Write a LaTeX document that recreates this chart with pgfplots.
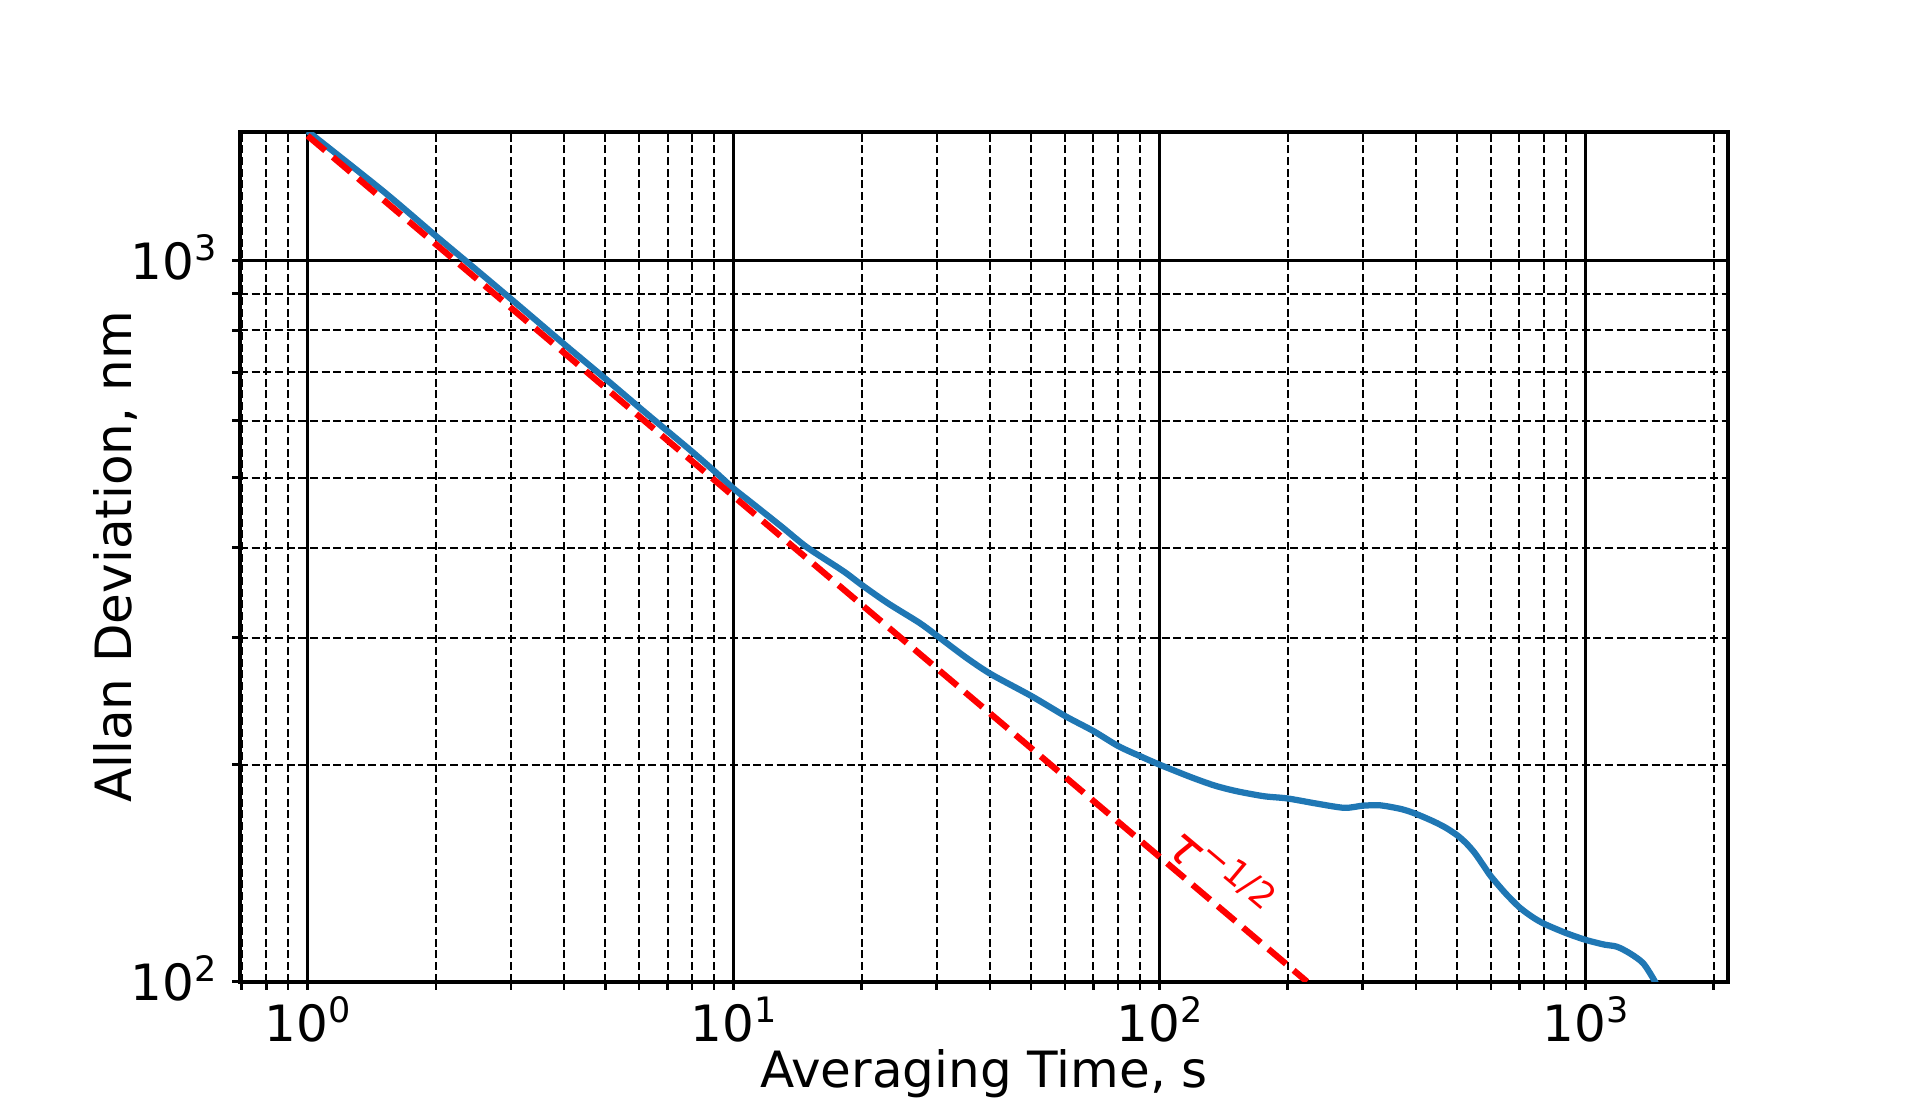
\documentclass[border=0pt]{standalone}
\usepackage{fontspec}
\setmainfont{DejaVu Sans}
\usepackage{pgfplots}
\usepackage{pgfplotstable}
\pgfplotsset{compat=1.18}
\definecolor{mplblue}{HTML}{1F77B4}
\newcommand{\pw}[1]{10\raisebox{0.38em}{\fontsize{8.4}{10}\selectfont #1}}

\pgfplotstableread{
tau sigma
1 1512
1.5 1250
2 1082
2.346 1000
3 885
4 766
5 686
6 626
7 580
8 543
9 511
10 483
11.15 459
13 427
14.9 400
18.1 371
20 355
23 335
27.3 314.6
30 302
35 282
40.2 267
50 249
60 233.6
70 222.6
80 212.2
90 205.5
100 200
119 192
135 187
152 183.7
176 180.8
200 179.5
235 176.5
272 174.2
300 175.4
330 175.6
370 173.5
400 170.9
440 166.8
470 163.5
500 159.6
525 155.6
550 150.8
575 145.2
600 140
650 132.5
700 126.8
750 123
800 120.3
900 116.8
1000 114.3
1104 112.6
1186 111.8
1274 109.4
1368 106
1457 100
1500 96
}\bluedata

\begin{document}
\begin{tikzpicture}[font=\fontsize{12}{14.4}\selectfont]
\begin{loglogaxis}[
  name=ax,
  scale only axis,
  width=357.12pt, height=203.83pt,
  xmin=0.694, xmax=2162, ymin=100, ymax=1506,
  xtick={1,10,100,1000},
  xticklabels={\pw{0},\pw{1},\pw{2},\pw{3}},
  ytick={100,1000},
  yticklabels={\pw{2},\pw{3}},
  minor xtick={0.7,0.8,0.9,2,3,4,5,6,7,8,9,20,30,40,50,60,70,80,90,200,300,400,500,600,700,800,900,2000},
  minor ytick={200,300,400,500,600,700,800,900},
  grid=both,
  major grid style={black, line width=0.8pt},
  minor grid style={black, line width=0.48pt, dash pattern=on 1.9pt off 0.9pt},
  axis line style={black, line width=1pt},
  tick pos=left,
  tick align=outside,
  major tick length=1.92pt,
  minor tick length=1.92pt,
  every major tick/.append style={black, line width=0.8pt},
  every minor tick/.append style={black, line width=0.6pt},
  xticklabel style={anchor=base, inner sep=0pt, yshift=-12.4pt},
  yticklabel style={anchor=base east, inner sep=0pt, xshift=-3.5pt, yshift=-4.63pt},
  xlabel={Averaging Time, s},
  ylabel={Allan Deviation, nm},
  xlabel style={at={(axis description cs:0.5,-0.1251)}, anchor=base, inner sep=0pt},
  ylabel style={at={(axis description cs:-0.0728,0.5)}, anchor=base, inner sep=0pt},
]
\addplot[mplblue, line width=1.5pt, line join=round, smooth, tension=0.45] table[x=tau, y=sigma] {\bluedata};
\addplot[red, line width=1.5pt, dash pattern=on 5.55pt off 2.4pt] coordinates {(1,1490) (222,100)};
\node[anchor=base west, rotate=-40, inner sep=0pt, text=red] at (axis cs:101.6,151.8)
  {\itshape τ\upshape\raisebox{0.38em}{\fontsize{8.4}{10}\selectfont −1/2}};
\end{loglogaxis}
\pgfresetboundingbox
\path ([shift={(-57.6pt,-29.12pt)}]ax.south west) rectangle ([shift={(46.08pt,31.77pt)}]ax.north east);
\end{tikzpicture}
\end{document}
